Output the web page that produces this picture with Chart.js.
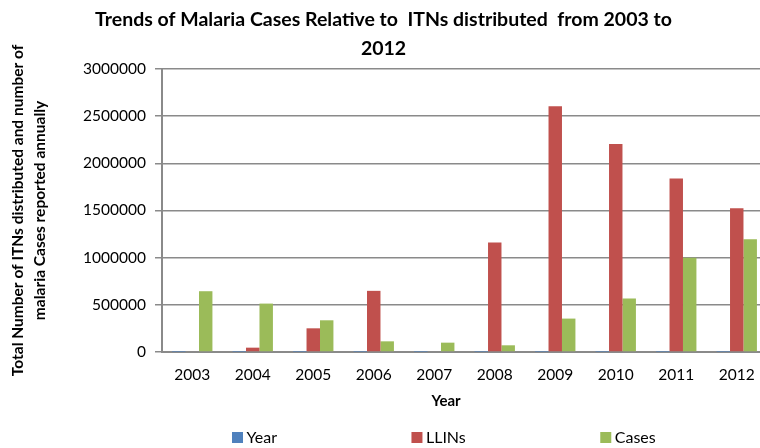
<!DOCTYPE html>
<html>
<head>
<meta charset="utf-8">
<script src="https://cdn.jsdelivr.net/npm/chart.js@4.4.1/dist/chart.umd.min.js"></script>
<style>
  body { margin: 0; background: #fff; }
  #wrap { width: 760px; height: 448px; overflow: hidden; }
</style>
</head>
<body>
<div id="wrap"><canvas id="canvas" width="780" height="448"></canvas></div>
<script>
const years = ['2003', '2004', '2005', '2006', '2007', '2008', '2009', '2010', '2011', '2012'];
const yearValues = [2003, 2004, 2005, 2006, 2007, 2008, 2009, 2010, 2011, 2012];
const llins = [0, 46000, 251000, 648000, 0, 1161000, 2603000, 2203000, 1838000, 1522000];
const cases = [644000, 513000, 336000, 113000, 99000, 71000, 354000, 567000, 999000, 1195000];

const gridGrey = '#8a8a8a';

// axis title "Year" and the legend sit off-centre in the original, so draw them by hand
const extraLabels = {
    id: 'extraLabels',
    afterDraw(chart) {
        const ctx = chart.ctx;
        ctx.save();
        ctx.fillStyle = '#000';
        ctx.textBaseline = 'middle';
        ctx.textAlign = 'center';
        ctx.font = 'bold 15px Lato';
        ctx.fillText('Year', 446, 401);

        ctx.font = '16px Lato';
        ctx.textAlign = 'left';
        let x = 232;
        chart.data.datasets.forEach((ds) => {
            ctx.fillStyle = ds.backgroundColor;
            ctx.fillRect(x, 432, 11, 11);
            ctx.fillStyle = '#000';
            ctx.fillText(ds.label, x + 14.5, 438);
            x += 14.5 + ctx.measureText(ds.label).width + 134.5;
        });
        ctx.restore();
    }
};

const ctx = document.getElementById('canvas').getContext('2d');
let myChart = new Chart(ctx, {
    type: 'bar',
    data: {
        labels: years,
        datasets: [
            { label: 'Year', data: yearValues, backgroundColor: '#4f81bd' },
            { label: 'LLINs', data: llins, backgroundColor: '#c0504d' },
            { label: 'Cases', data: cases, backgroundColor: '#9bbb59' }
        ]
    },
    options: {
        responsive: false,
        animation: false,
        layout: { padding: { left: 0, right: 13, top: 0, bottom: 0 } },
        datasets: {
            bar: { categoryPercentage: 0.667, barPercentage: 1.0 }
        },
        plugins: {
            legend: { display: false },
            tooltip: { enabled: false },
            title: {
                display: true,
                text: ['Trends of Malaria Cases Relative to  ITNs distributed  from 2003 to', '2012'],
                color: '#000',
                font: { family: 'Lato', size: 19.5, weight: 'bold', lineHeight: 1.51 },
                padding: { top: 5, bottom: 5 }
            }
        },
        scales: {
            x: {
                grid: { display: false, drawTicks: false },
                border: { display: true, color: gridGrey, width: 2 },
                ticks: { color: '#000', padding: 14, font: { family: 'Lato', size: 15.5 } },
                afterFit: (s) => { s.height = 96; }
            },
            y: {
                min: 0,
                max: 3000000,
                ticks: {
                    stepSize: 500000,
                    color: '#000',
                    padding: 9,
                    font: { family: 'Lato', size: 15.5 },
                    callback: (v) => String(v)
                },
                grid: { color: gridGrey, lineWidth: 1.5, tickLength: 7 },
                border: { display: true, color: gridGrey, width: 2 },
                title: {
                    display: true,
                    text: ['Total Number of ITNs distributed and number of', 'malaria Cases reported annually'],
                    color: '#000',
                    font: { family: 'Lato', size: 15.5, weight: 'bold', lineHeight: 1.42 },
                    padding: { top: 7, bottom: 0 }
                },
                afterFit: (s) => { s.width = 162; }
            }
        }
    },
    plugins: [extraLabels]
});
</script>
</body>
</html>
